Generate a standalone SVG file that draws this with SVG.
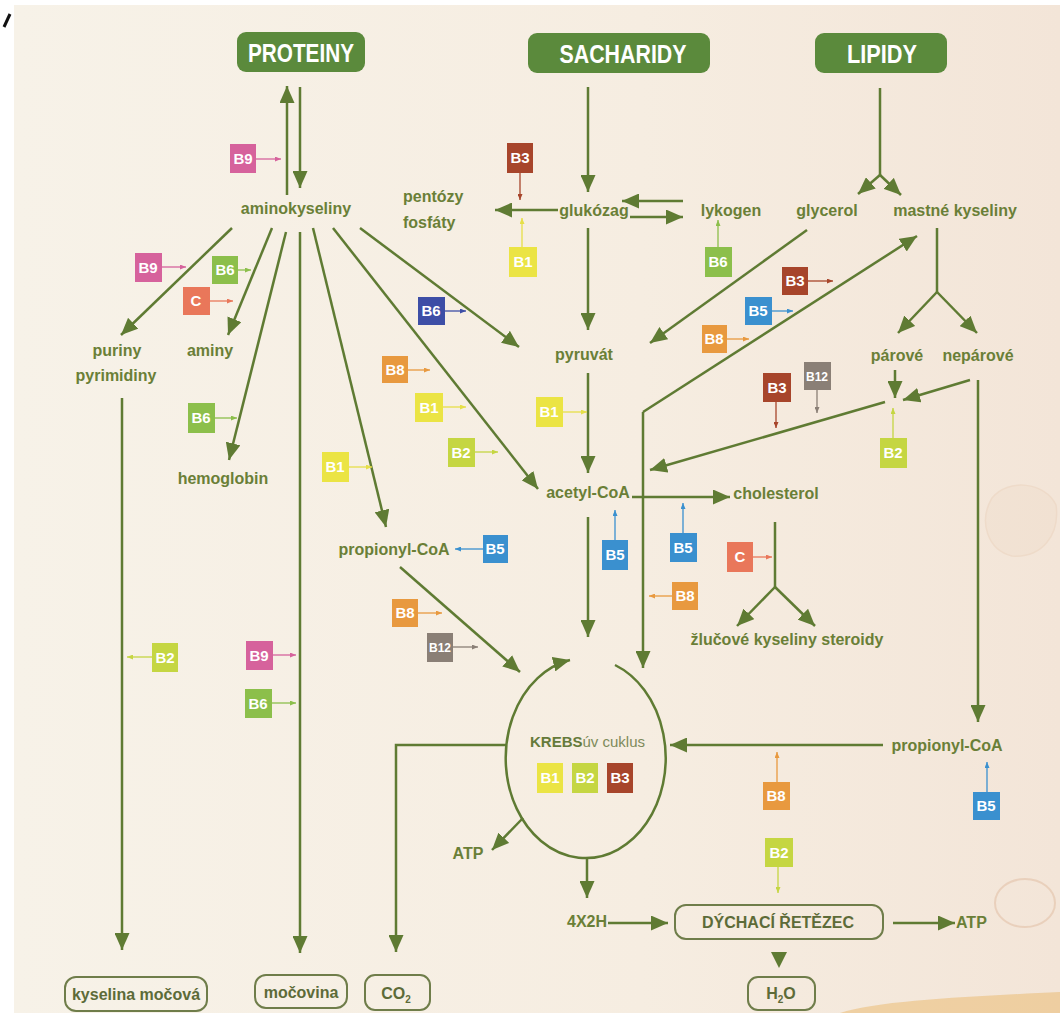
<svg xmlns="http://www.w3.org/2000/svg" width="1060" height="1013" viewBox="0 0 1060 1013">
<defs>
<linearGradient id="bg" x1="0" y1="0" x2="1" y2="0">
<stop offset="0" stop-color="#f7f2e8"/>
<stop offset="0.6" stop-color="#f6ede1"/>
<stop offset="1" stop-color="#f3e5d8"/>
</linearGradient>
<marker id="ah" markerUnits="userSpaceOnUse" markerWidth="17" markerHeight="15" refX="17" refY="7.5" orient="auto"><path d="M0,0 L17,7.5 L0,15 z" fill="#5f7b33"/></marker>
<marker id="m-pk" markerUnits="userSpaceOnUse" markerWidth="6" markerHeight="5" refX="6" refY="2.5" orient="auto"><path d="M0,0 L6,2.5 L0,5 z" fill="#d6629c"/></marker>
<marker id="m-lg" markerUnits="userSpaceOnUse" markerWidth="6" markerHeight="5" refX="6" refY="2.5" orient="auto"><path d="M0,0 L6,2.5 L0,5 z" fill="#8cbf4b"/></marker>
<marker id="m-db" markerUnits="userSpaceOnUse" markerWidth="6" markerHeight="5" refX="6" refY="2.5" orient="auto"><path d="M0,0 L6,2.5 L0,5 z" fill="#3d4ea6"/></marker>
<marker id="m-sa" markerUnits="userSpaceOnUse" markerWidth="6" markerHeight="5" refX="6" refY="2.5" orient="auto"><path d="M0,0 L6,2.5 L0,5 z" fill="#e9775a"/></marker>
<marker id="m-ye" markerUnits="userSpaceOnUse" markerWidth="6" markerHeight="5" refX="6" refY="2.5" orient="auto"><path d="M0,0 L6,2.5 L0,5 z" fill="#e6df48"/></marker>
<marker id="m-yg" markerUnits="userSpaceOnUse" markerWidth="6" markerHeight="5" refX="6" refY="2.5" orient="auto"><path d="M0,0 L6,2.5 L0,5 z" fill="#c5d642"/></marker>
<marker id="m-br" markerUnits="userSpaceOnUse" markerWidth="6" markerHeight="5" refX="6" refY="2.5" orient="auto"><path d="M0,0 L6,2.5 L0,5 z" fill="#a7452b"/></marker>
<marker id="m-bl" markerUnits="userSpaceOnUse" markerWidth="6" markerHeight="5" refX="6" refY="2.5" orient="auto"><path d="M0,0 L6,2.5 L0,5 z" fill="#3a90cf"/></marker>
<marker id="m-or" markerUnits="userSpaceOnUse" markerWidth="6" markerHeight="5" refX="6" refY="2.5" orient="auto"><path d="M0,0 L6,2.5 L0,5 z" fill="#e8993f"/></marker>
<marker id="m-gr" markerUnits="userSpaceOnUse" markerWidth="6" markerHeight="5" refX="6" refY="2.5" orient="auto"><path d="M0,0 L6,2.5 L0,5 z" fill="#8a7f76"/></marker>
</defs>
<style>
text{font-family:"Liberation Sans",Arial,sans-serif;font-weight:bold}
.lbl{font-size:16px;fill:#6a7f37;text-anchor:middle}
.lbl-l{font-size:16px;fill:#6a7f37}
.hdr{font-size:25px;fill:#ffffff;text-anchor:middle}
.hbox{fill:#5b8a3c}
.obox{fill:none;stroke:#6f7d4a;stroke-width:2}
.otxt{font-size:16px;fill:#5d6b38;text-anchor:middle}
.c{fill:none;stroke:#5f7b33;stroke-width:2.5;marker-end:url(#ah)}
.cn{fill:none;stroke:#5f7b33;stroke-width:2.5}
.vt{font-size:15px;fill:#ffffff;text-anchor:middle}
.vt12{font-size:12px;fill:#ffffff;text-anchor:middle}
.v{stroke-width:1.3;fill:none}
.pk{fill:#d6629c}.pkl{stroke:#d6629c;marker-end:url(#m-pk)}
.lg{fill:#8cbf4b}.lgl{stroke:#8cbf4b;marker-end:url(#m-lg)}
.db{fill:#3d4ea6}.dbl{stroke:#3d4ea6;marker-end:url(#m-db)}
.sa{fill:#e9775a}.sal{stroke:#e9775a;marker-end:url(#m-sa)}
.ye{fill:#ebe444}.yel{stroke:#e6df48;marker-end:url(#m-ye)}
.yg{fill:#c5d642}.ygl{stroke:#c5d642;marker-end:url(#m-yg)}
.br{fill:#a7452b}.brl{stroke:#a7452b;marker-end:url(#m-br)}
.bl{fill:#3a90cf}.bll{stroke:#3a90cf;marker-end:url(#m-bl)}
.or{fill:#e8993f}.orl{stroke:#e8993f;marker-end:url(#m-or)}
.gr{fill:#8a7f76}.grl{stroke:#8a7f76;marker-end:url(#m-gr)}
</style>

<rect x="0" y="0" width="1060" height="1013" fill="#ffffff"/>
<rect x="14" y="5" width="1046" height="1008" fill="url(#bg)"/>
<g id="background-marks">
<path d="M10,14 L4,27" stroke="#111" stroke-width="3" fill="none"/>
<path d="M992,498 C1008,478 1045,482 1056,505 C1060,535 1042,558 1012,556 C988,550 978,522 992,498 z" fill="#f0dcc9" opacity="0.35" stroke="#e6c8ae" stroke-width="1.5"/>
<ellipse cx="1025" cy="903" rx="30" ry="24" fill="none" stroke="#e2c2a8" stroke-width="2" opacity="0.6"/>
<path d="M840,1013 C880,1000 980,996 1060,992 L1060,1013 z" fill="#e9b76a" opacity="0.5"/>
</g>

<g id="connectors">
<path class="c" d="M287,195 L287,86"/>
<path class="c" d="M300,87 L300,188"/>
<path class="c" d="M232,228 L121,335"/>
<path class="c" d="M272,228 L228,335"/>
<path class="c" d="M286,232 L229,460"/>
<path class="c" d="M300,232 L300,953"/>
<path class="c" d="M313,228 L386,527"/>
<path class="c" d="M333,228 L538,489"/>
<path class="c" d="M360,228 L519,347"/>
<path class="c" d="M122,398 L122,950"/>
<path class="c" d="M588,87 L588,192"/>
<path class="c" d="M558,210 L495,210"/>
<path class="c" d="M683,201 L622,201"/>
<path class="c" d="M630,217 L683,217"/>
<path class="c" d="M588,228 L588,330"/>
<path class="c" d="M588,373 L588,473"/>
<path class="c" d="M588,517 L588,637"/>
<path class="c" d="M807,230 L650,343"/>
<path class="c" d="M643,412 L643,668"/>
<path class="c" d="M643,412 L917,236"/>
<path class="c" d="M632,497 L730,497"/>
<path class="c" d="M885,402 L650,470"/>
<path class="cn" d="M880,88 L880,175"/>
<path class="c" d="M880,175 L858,194"/>
<path class="c" d="M880,175 L901,195"/>
<path class="cn" d="M937,228 L937,292"/>
<path class="c" d="M937,292 L898,333"/>
<path class="c" d="M937,292 L977,333"/>
<path class="c" d="M895,370 L895,398"/>
<path class="c" d="M970,380 L903,400"/>
<path class="c" d="M978,380 L978,722"/>
<path class="c" d="M883,745 L670,745"/>
<path class="c" d="M400,567 L520,672"/>
<path class="cn" d="M775,522 L775,587"/>
<path class="c" d="M775,587 L737,626"/>
<path class="c" d="M775,587 L815,626"/>
<path class="c" d="M507,745 L396,745 L396,952"/>
<path class="c" d="M523,818 L492,850"/>
<path class="c" d="M587,858 L587,898"/>
<path class="c" d="M608,923 L668,923"/>
<path class="c" d="M893,923 L955,923"/>
<path d="M771,952 L787,952 L779,968 z" fill="#5f7b33"/>
<path class="c" d="M615,665 A80,100 0 1,1 570,660"/>
</g>

<g id="proteiny"><rect class="hbox" x="237" y="32" width="128" height="40" rx="9"/><text class="hdr" x="301" y="62" textLength="106" lengthAdjust="spacingAndGlyphs">PROTEINY</text></g>
<g id="sacharidy"><rect class="hbox" x="528" y="33" width="182" height="40" rx="9"/><text class="hdr" x="623" y="63" textLength="127" lengthAdjust="spacingAndGlyphs">SACHARIDY</text></g>
<g id="lipidy"><rect class="hbox" x="815" y="33" width="132" height="40" rx="9"/><text class="hdr" x="882" y="63" textLength="70" lengthAdjust="spacingAndGlyphs">LIPIDY</text></g>

<g id="aminokyseliny"><text class="lbl" x="296" y="214">aminokyseliny</text></g>
<g id="puriny"><text class="lbl" x="117" y="356">puriny</text><text class="lbl" x="116" y="381">pyrimidiny</text></g>
<g id="aminy"><text class="lbl" x="210" y="356">aminy</text></g>
<g id="hemoglobin"><text class="lbl" x="223" y="484">hemoglobin</text></g>
<g id="propionyl-left"><text class="lbl" x="394" y="555">propionyl-CoA</text></g>
<g id="pentozy"><text class="lbl-l" x="403" y="202">pentózy</text><text class="lbl-l" x="403" y="228">fosfáty</text></g>
<g id="glukoza"><text class="lbl" x="594" y="216">glukózag</text></g>
<g id="lykogen"><text class="lbl" x="731" y="216">lykogen</text></g>
<g id="glycerol"><text class="lbl" x="827" y="216">glycerol</text></g>
<g id="mastne"><text class="lbl" x="955" y="216">mastné kyseliny</text></g>
<g id="pyruvat"><text class="lbl" x="584" y="360">pyruvát</text></g>
<g id="acetyl"><text class="lbl" x="588" y="498">acetyl-CoA</text></g>
<g id="cholesterol"><text class="lbl" x="776" y="499">cholesterol</text></g>
<g id="parove"><text class="lbl" x="897" y="361">párové</text></g>
<g id="neparove"><text class="lbl" x="978" y="361">nepárové</text></g>
<g id="zlucove"><text class="lbl" x="787" y="645">žlučové kyseliny steroidy</text></g>
<g id="propionyl-right"><text class="lbl" x="947" y="751">propionyl-CoA</text></g>
<g id="krebs"><text x="530" y="747" font-size="15" fill="#657a3a">KREBS<tspan font-weight="normal" fill="#7d8a5a">úv cuklus</tspan></text></g>
<g id="atp-left"><text class="lbl" x="468" y="859">ATP</text></g>
<g id="x2h"><text class="lbl" x="587" y="927">4X2H</text></g>
<g id="atp-right"><text class="lbl-l" x="956" y="928">ATP</text></g>
<g id="dychaci"><rect class="obox" x="675" y="905" width="208" height="34" rx="11"/><text class="otxt" x="778" y="928" font-size="15">DÝCHACÍ ŘETĚZEC</text></g>
<g id="h2o"><rect class="obox" x="748" y="977" width="67" height="33" rx="10"/><text class="otxt" x="781" y="999">H<tspan font-size="10" dy="4">2</tspan><tspan dy="-4">O</tspan></text></g>
<g id="kyselina"><rect class="obox" x="65" y="977" width="142" height="34" rx="11"/><text class="otxt" x="136" y="1000">kyselina močová</text></g>
<g id="mocovina"><rect class="obox" x="255" y="975" width="92" height="33" rx="11"/><text class="otxt" x="301" y="998">močovina</text></g>
<g id="co2"><rect class="obox" x="365" y="975" width="65" height="35" rx="10"/><text class="otxt" x="396" y="999">CO<tspan font-size="10" dy="4">2</tspan></text></g>

<g id="vit-1"><rect class="pk" x="230" y="144" width="26" height="29"/><text class="vt" x="243" y="164">B9</text><path class="v pkl" d="M256,159 L281,159"/></g>
<g id="vit-2"><rect class="pk" x="135" y="253" width="27" height="29"/><text class="vt" x="148" y="273">B9</text><path class="v pkl" d="M162,267 L186,267"/></g>
<g id="vit-3"><rect class="lg" x="212" y="256" width="26" height="28"/><text class="vt" x="225" y="275">B6</text><path class="v lgl" d="M238,270 L251,270"/></g>
<g id="vit-4"><rect class="sa" x="183" y="287" width="27" height="28"/><text class="vt" x="196" y="306">C</text><path class="v sal" d="M210,301 L233,301"/></g>
<g id="vit-5"><rect class="lg" x="188" y="403" width="27" height="30"/><text class="vt" x="201" y="423">B6</text><path class="v lgl" d="M215,418 L237,418"/></g>
<g id="vit-6"><rect class="yg" x="152" y="643" width="26" height="29"/><text class="vt" x="165" y="663">B2</text><path class="v ygl" d="M152,657 L127,657"/></g>
<g id="vit-7"><rect class="pk" x="246" y="641" width="27" height="29"/><text class="vt" x="259" y="661">B9</text><path class="v pkl" d="M273,655 L296,655"/></g>
<g id="vit-8"><rect class="lg" x="245" y="689" width="27" height="29"/><text class="vt" x="258" y="709">B6</text><path class="v lgl" d="M272,703 L296,703"/></g>
<g id="vit-9"><rect class="ye" x="322" y="452" width="27" height="30"/><text class="vt" x="335" y="472">B1</text><path class="v yel" d="M349,467 L372,467"/></g>
<g id="vit-10"><rect class="or" x="382" y="356" width="26" height="27"/><text class="vt" x="395" y="375">B8</text><path class="v orl" d="M408,370 L430,370"/></g>
<g id="vit-11"><rect class="ye" x="415" y="393" width="28" height="29"/><text class="vt" x="429" y="413">B1</text><path class="v yel" d="M443,407 L466,407"/></g>
<g id="vit-12"><rect class="yg" x="448" y="438" width="27" height="29"/><text class="vt" x="461" y="458">B2</text><path class="v ygl" d="M475,452 L498,452"/></g>
<g id="vit-13"><rect class="db" x="418" y="297" width="27" height="28"/><text class="vt" x="431" y="316">B6</text><path class="v dbl" d="M445,311 L466,311"/></g>
<g id="vit-14"><rect class="bl" x="483" y="535" width="25" height="28"/><text class="vt" x="495" y="554">B5</text><path class="v bll" d="M483,549 L455,549"/></g>
<g id="vit-15"><rect class="or" x="392" y="599" width="26" height="28"/><text class="vt" x="405" y="618">B8</text><path class="v orl" d="M418,613 L442,613"/></g>
<g id="vit-16"><rect class="gr" x="427" y="633" width="26" height="29"/><text class="vt12" x="440" y="652">B12</text><path class="v grl" d="M453,647 L478,647"/></g>
<g id="vit-17"><rect class="br" x="507" y="143" width="26" height="30"/><text class="vt" x="520" y="163">B3</text><path class="v brl" d="M520,173 L520,200"/></g>
<g id="vit-18"><rect class="ye" x="509" y="247" width="28" height="30"/><text class="vt" x="523" y="267">B1</text><path class="v yel" d="M522,247 L522,218"/></g>
<g id="vit-19"><rect class="lg" x="705" y="247" width="27" height="30"/><text class="vt" x="718" y="267">B6</text><path class="v lgl" d="M718,247 L718,220"/></g>
<g id="vit-20"><rect class="ye" x="536" y="397" width="27" height="30"/><text class="vt" x="549" y="417">B1</text><path class="v yel" d="M563,412 L587,412"/></g>
<g id="vit-21"><rect class="bl" x="602" y="540" width="26" height="30"/><text class="vt" x="615" y="560">B5</text><path class="v bll" d="M615,540 L615,510"/></g>
<g id="vit-22"><rect class="bl" x="670" y="533" width="27" height="29"/><text class="vt" x="683" y="553">B5</text><path class="v bll" d="M683,533 L683,503"/></g>
<g id="vit-23"><rect class="or" x="672" y="582" width="26" height="28"/><text class="vt" x="685" y="601">B8</text><path class="v orl" d="M672,596 L649,596"/></g>
<g id="vit-24"><rect class="or" x="702" y="325" width="25" height="28"/><text class="vt" x="714" y="344">B8</text><path class="v orl" d="M727,339 L749,339"/></g>
<g id="vit-25"><rect class="bl" x="745" y="297" width="27" height="28"/><text class="vt" x="758" y="316">B5</text><path class="v bll" d="M772,311 L793,311"/></g>
<g id="vit-26"><rect class="br" x="782" y="267" width="26" height="28"/><text class="vt" x="795" y="286">B3</text><path class="v brl" d="M808,281 L833,281"/></g>
<g id="vit-27"><rect class="br" x="763" y="373" width="28" height="29"/><text class="vt" x="777" y="393">B3</text><path class="v brl" d="M776,402 L776,428"/></g>
<g id="vit-28"><rect class="gr" x="804" y="362" width="27" height="28"/><text class="vt12" x="817" y="381">B12</text><path class="v grl" d="M817,390 L817,413"/></g>
<g id="vit-29"><rect class="yg" x="880" y="438" width="27" height="30"/><text class="vt" x="893" y="458">B2</text><path class="v ygl" d="M893,438 L893,408"/></g>
<g id="vit-30"><rect class="sa" x="727" y="542" width="26" height="30"/><text class="vt" x="740" y="562">C</text><path class="v sal" d="M753,557 L772,557"/></g>
<g id="vit-31"><rect class="or" x="763" y="782" width="27" height="28"/><text class="vt" x="776" y="801">B8</text><path class="v orl" d="M777,782 L777,752"/></g>
<g id="vit-32"><rect class="yg" x="765" y="838" width="28" height="29"/><text class="vt" x="779" y="858">B2</text><path class="v ygl" d="M778,867 L778,893"/></g>
<g id="vit-33"><rect class="bl" x="973" y="792" width="27" height="28"/><text class="vt" x="986" y="811">B5</text><path class="v bll" d="M987,792 L987,762"/></g>
<g id="vit-krebs-b1"><rect class="ye" x="537" y="763" width="26" height="30"/><text class="vt" x="550" y="783">B1</text></g>
<g id="vit-krebs-b2"><rect class="yg" x="572" y="763" width="26" height="30"/><text class="vt" x="585" y="783">B2</text></g>
<g id="vit-krebs-b3"><rect class="br" x="607" y="763" width="26" height="30"/><text class="vt" x="620" y="783">B3</text></g>
</svg>
